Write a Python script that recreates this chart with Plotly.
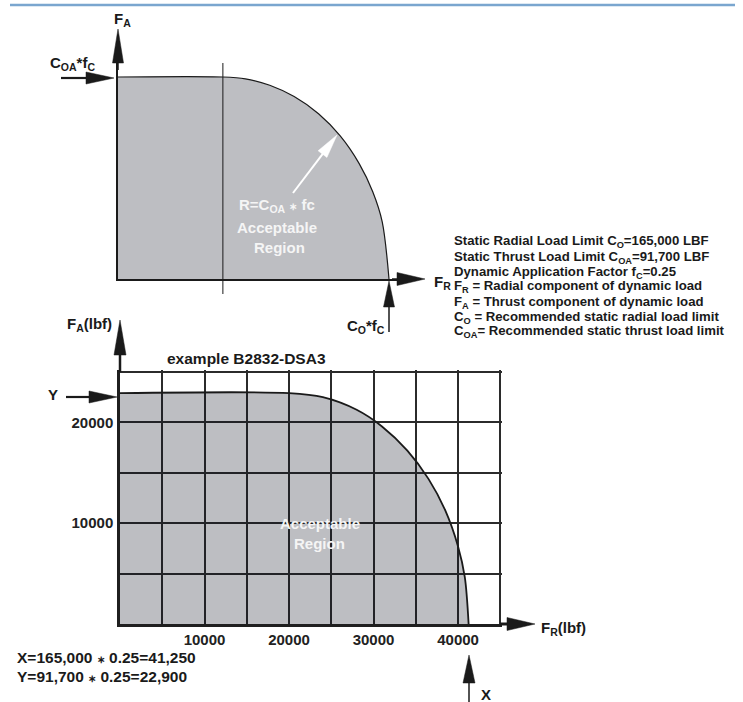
import plotly.graph_objects as go

# ---------------- data ----------------
# top schematic: fraction of C_O*f_C (x) and of C_OA*f_C (y)
top_u = [0.0, 0.387, 0.47, 0.56, 0.65, 0.74, 0.82, 0.89, 0.94, 0.975, 1.0]
top_v = [1.0, 1.0, 0.991, 0.959, 0.903, 0.818, 0.708, 0.571, 0.432, 0.283, 0.0]

# bottom example B2832-DSA3 (lbf)
bot_x = [0, 20000, 24000, 28000, 31000, 34000, 36500, 38500, 40000, 40800, 41250]
bot_y = [22900, 22900, 22500, 21250, 19600, 17200, 14400, 11250, 7700, 4650, 0]

x_tickvals = [10000, 20000, 30000, 40000]
x_ticktext = ["10000", "20000", "30000", "40000"]
y_tickvals = [10000, 20000]
y_ticktext = ["10000", "20000"]
grid_step = 5000

legend_lines = [
    "Static Radial Load Limit C<sub>O</sub>=165,000 LBF",
    "Static Thrust Load Limit C<sub>OA</sub>=91,700 LBF",
    "Dynamic Application Factor f<sub>C</sub>=0.25",
    "F<sub>R</sub> = Radial component of dynamic load",
    "F<sub>A</sub> = Thrust component of dynamic load",
    "C<sub>O</sub> = Recommended static radial load limit",
    "C<sub>OA</sub>= Recommended static thrust load limit",
]
STAR = '<span style="font-size:10px">\u2217</span>'
calc_lines = [
    "X=165,000 " + STAR + " 0.25=41,250",
    "Y=91,700 " + STAR + " 0.25=22,900",
]

# ---------------- layout helpers ----------------
W, H = 743, 702
FONT = "Liberation Sans, Arial, Helvetica, sans-serif"
INK = "#1a1a1a"
GRAY = "#bdbec2"


def fx(x):
    return x / W


def fy(y):
    return 1 - y / H


shapes = []
annotations = []


def line(x0, y0, x1, y1, color=INK, w=2):
    shapes.append(dict(type="line", xref="paper", yref="paper",
                       x0=fx(x0), y0=fy(y0), x1=fx(x1), y1=fy(y1),
                       line=dict(color=color, width=w), layer="above"))


def arrow(tail, tip, headlen, hw, color=INK, w=2):
    tx, ty = tail
    hx, hy = tip
    dx, dy = hx - tx, hy - ty
    ln = (dx * dx + dy * dy) ** 0.5
    ux, uy = dx / ln, dy / ln
    bx, by = hx - ux * headlen, hy - uy * headlen
    line(tx, ty, bx + ux * 1, by + uy * 1, color, w)
    px_, py_ = -uy, ux
    p1 = (bx + px_ * hw, by + py_ * hw)
    p2 = (bx - px_ * hw, by - py_ * hw)
    path = "M {},{} L {},{} L {},{} Z".format(fx(hx), fy(hy), fx(p1[0]), fy(p1[1]),
                                            fx(p2[0]), fy(p2[1]))
    shapes.append(dict(type="path", xref="paper", yref="paper", path=path,
                       fillcolor=color, line=dict(color=color, width=0.5), layer="above"))


def text(t, x, y, xa="left", size=15, color=INK):
    annotations.append(dict(text=t, x=fx(x), y=fy(y), xref="paper", yref="paper",
                            xanchor=xa, yanchor="middle", showarrow=False,
                            font=dict(family=FONT, size=size, color=color, weight="bold")))


# ---------------- figure ----------------
fig = go.Figure()
fig.add_trace(go.Scatter(
    x=top_u, y=top_v, xaxis="x", yaxis="y", mode="lines",
    line=dict(color=INK, width=1.2, shape="spline", smoothing=0.9),
    fill="tozeroy", fillcolor=GRAY, hoverinfo="skip", showlegend=False))
fig.add_trace(go.Scatter(
    x=bot_x, y=bot_y, xaxis="x2", yaxis="y2", mode="lines",
    line=dict(color=INK, width=1.8, shape="spline", smoothing=0.9),
    fill="tozeroy", fillcolor="rgba(11,15,29,0.27)", hoverinfo="skip", showlegend=False))

# top schematic axes: origin at (118,279) px, unit x = 271 px, unit y = 202 px
ax_common = dict(showgrid=False, zeroline=False, showticklabels=False, ticks="",
                 showline=True, linecolor=INK, linewidth=1.5, fixedrange=True)
xaxis = dict(ax_common, domain=[fx(118), fx(397)], range=[0, (397 - 118) / 271], anchor="y")
yaxis = dict(ax_common, domain=[fy(279), fy(63)], range=[0, (279 - 63) / 202], anchor="x")

tickfont = dict(family=FONT, size=15, color="#222222", weight="bold")
grid_style = dict(showgrid=True, gridcolor="#2b2b2b", gridwidth=1.8)
xaxis2 = dict(domain=[fx(120), fx(502)], range=[0, 45200], anchor="y2",
              tickmode="array", tickvals=x_tickvals, ticktext=x_ticktext,
              minor=dict(dtick=grid_step, tick0=0, ticks="", **grid_style),
              zeroline=False, showline=True, linecolor="#1f1f1f", linewidth=3, ticks="",
              tickfont=tickfont, ticklabelstandoff=0, fixedrange=True, **grid_style)
yaxis2 = dict(domain=[fy(624), fy(370)], range=[0, 25200], anchor="x2",
              tickmode="array", tickvals=y_tickvals, ticktext=y_ticktext,
              minor=dict(dtick=grid_step, tick0=0, ticks="", **grid_style),
              zeroline=False, showline=True, linecolor="#1f1f1f", linewidth=2.5, ticks="",
              tickfont=tickfont, ticklabelstandoff=1, fixedrange=True, **grid_style)

# header rule
line(10, 5, 735, 5, "#7aa6cf", 2.5)

# top schematic decorations
shapes.append(dict(type="line", xref="x", yref="paper", x0=top_u[1], x1=top_u[1],
                   y0=fy(63), y1=fy(294), line=dict(color=INK, width=1), layer="above"))
arrow((118, 70), (118, 29), 34, 5.5, w=1.5)
arrow((392, 279), (425, 279), 28, 6.5, w=1.5)
arrow((61, 78), (114, 78), 28, 6, w=2.2)
arrow((389, 332), (389, 281), 26, 5.5, w=1.5)
arrow((293, 193), (337, 135), 24, 5.5, color="#ffffff", w=2)

text("F<sub>A</sub>", 112, 20)
text("C<sub>OA</sub>*f<sub>C</sub>", 48, 63)
text("F<sub>R</sub>", 432, 282)
text("C<sub>O</sub>*f<sub>C</sub>", 387, 326, xa="right")
text("R=C<sub>OA</sub> " + STAR + " fc", 277, 205, xa="center", color="#f5f5f5")
text("Acceptable", 277, 228, xa="center", color="#f5f5f5")
text("Region", 279, 247, xa="center", color="#f5f5f5")

for i, t in enumerate(legend_lines):
    text(t, 452, 242 + 15 * i, size=13.2)

# bottom example decorations
arrow((120, 372), (120, 320), 35, 6, w=2.5)
arrow((500, 624), (535, 624), 28, 6.5, w=3)
arrow((66, 397), (117, 397), 28, 6, w=2.2)
arrow((469, 702), (469, 655), 28, 6, w=1.5)

text("F<sub>A</sub>(lbf)", 65, 324)
text("example B2832-DSA3", 165, 358, size=15.5)
text("Y", 53, 394, xa="center")
text("Acceptable", 320, 523, xa="center", color="#f5f5f5")
text("Region", 319, 543, xa="center", color="#f5f5f5")
text("F<sub>R</sub>(lbf)", 539, 628)
text("X", 479, 694)
for i, t in enumerate(calc_lines):
    text(t, 15, 657 + 19 * i, size=15.5)

fig.update_layout(
    width=W, height=H, margin=dict(l=0, r=0, t=0, b=0),
    paper_bgcolor="white", plot_bgcolor="white", showlegend=False,
    xaxis=xaxis, yaxis=yaxis, xaxis2=xaxis2, yaxis2=yaxis2,
    shapes=shapes, annotations=annotations,
)

fig.write_html("out.html", config={"displayModeBar": False},
               post_script="document.body.style.margin='0px';")
